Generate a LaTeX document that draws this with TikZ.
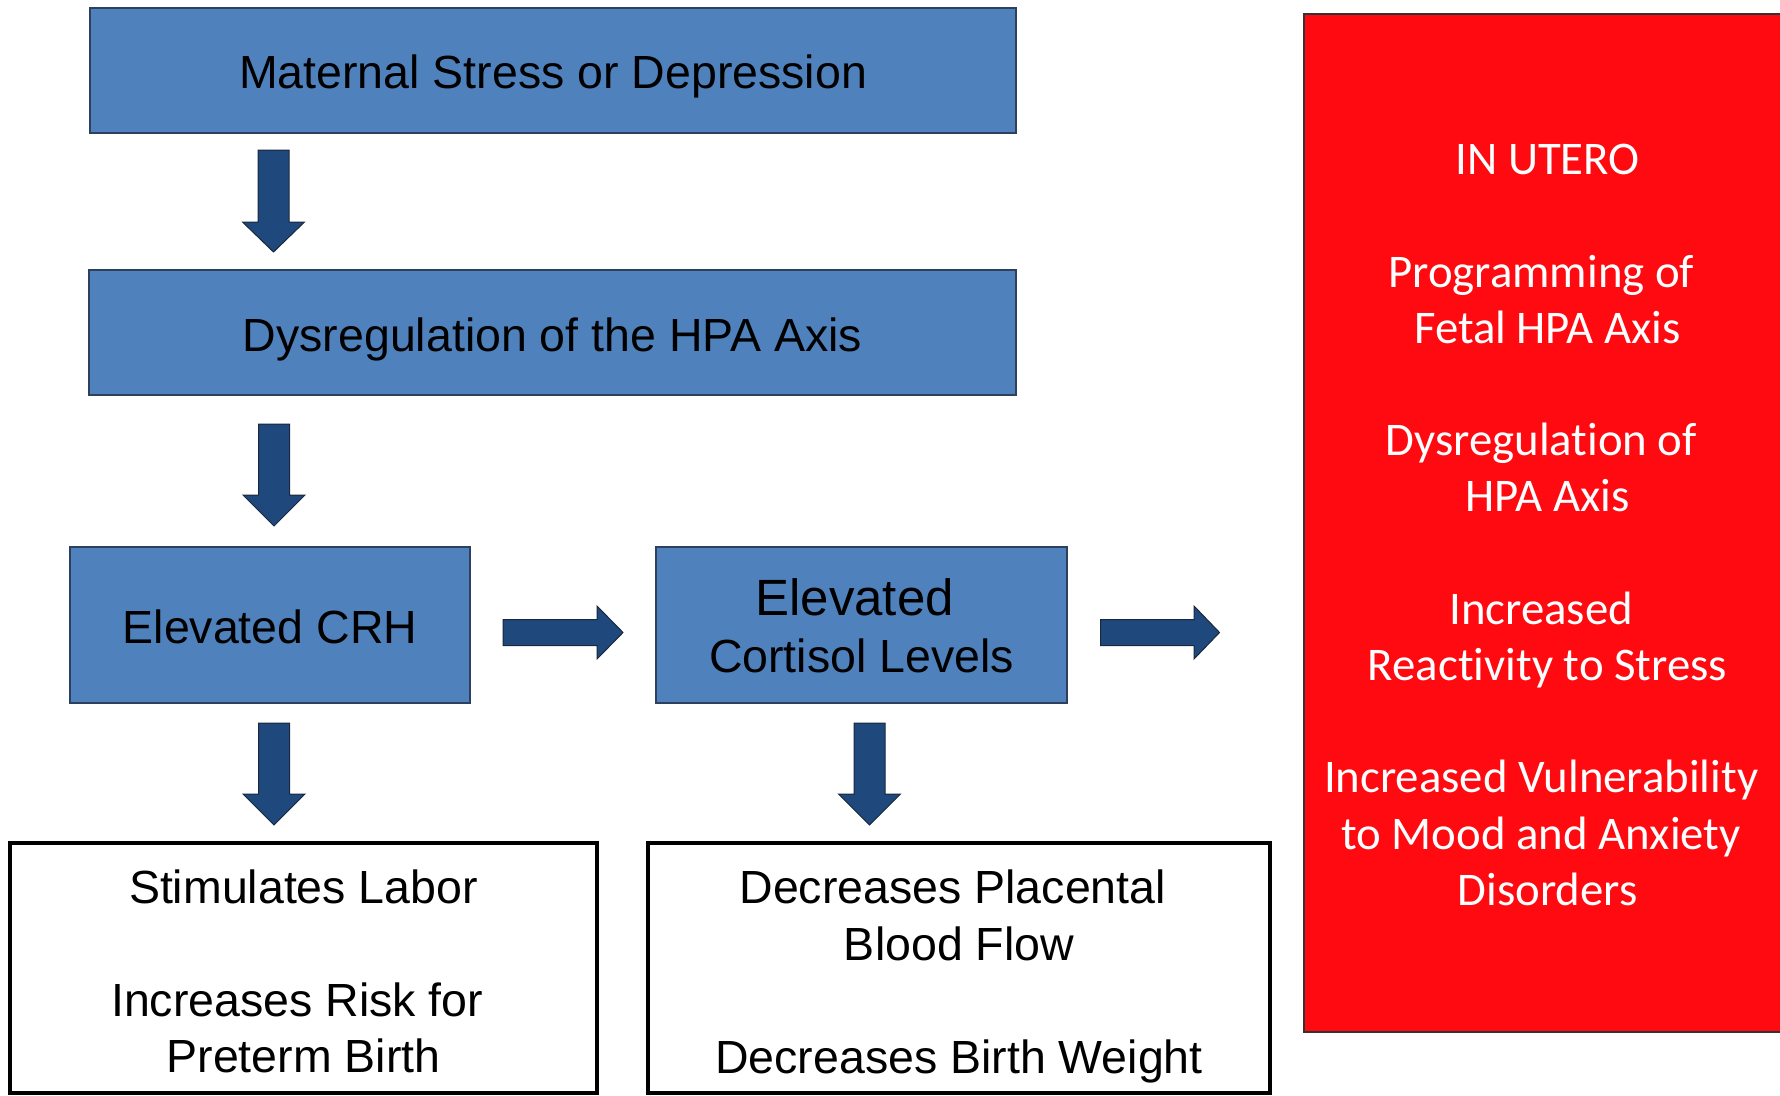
\documentclass[tikz,border=0pt]{standalone}
\usepackage{fontspec}
\setmainfont{Liberation Sans}
\newfontfamily\calfont[RawFeature={-liga;-calt;-dlig;-clig}]{Carlito}
\definecolor{boxblue}{RGB}{79,129,189}
\definecolor{boxedge}{RGB}{45,65,95}
\definecolor{arrowblue}{RGB}{31,73,125}
\definecolor{arrowedge}{RGB}{25,40,60}
\definecolor{boxred}{RGB}{254,10,16}
\tikzset{
  bluebox/.style={draw=boxedge, line width=1.5pt, fill=boxblue, inner sep=0pt, outer sep=0pt},
  whitebox/.style={draw=black, line width=3.5pt, fill=white, inner sep=0pt, outer sep=0pt},
  boxtext/.style={align=center, inner sep=0pt, font=\fontsize{46.5}{56.4}\selectfont},
  redbox/.style={draw=black!80, line width=2pt, fill=boxred, inner sep=0pt, outer sep=0pt},
  redtext/.style={text=white, align=center, inner sep=0pt, font=\calfont\fontsize{46.8}{56.2}\selectfont},
  blk/.style={fill=arrowblue, draw=arrowedge, line width=1pt, line join=miter}
}
\newcommand\tsp{\rule{0.27em}{0pt}}
\begin{document}
\begin{tikzpicture}[x=1pt,y=-1pt]
\useasboundingbox (0,0) rectangle (1780,1095);
% blue boxes
\node[bluebox, minimum width=926pt, minimum height=125pt] (m1) at (553,70.5) {};
\node[boxtext] (m1t) at ([yshift=-5.5pt]m1.center) {Maternal Stress or Depression};
\node[bluebox, minimum width=927pt, minimum height=125pt] (m2) at (552.5,332.5) {};
\node[boxtext] (m2t) at ([yshift=-6.5pt]m2.center) {Dysregulation of the HPA Axis};
\node[bluebox, minimum width=400pt, minimum height=156pt] (crh) at (270,625) {};
\node[boxtext] (crht) at ([yshift=-2.3pt]crh.center) {Elevated CRH};
\node[bluebox, minimum width=411pt, minimum height=156pt] (cort) at (861.5,625) {};
\node[boxtext, font=\fontsize{46.5}{57}\selectfont] (cortt) at ([yshift=-1.2pt]cort.center) {{\fontsize{51}{57}\selectfont Elevated\tsp}\\Cortisol Levels};
% white boxes
\node[whitebox, minimum width=587pt, minimum height=250pt] (labor) at (303.5,968) {};
\node[boxtext] (labort) at ([yshift=-3.4pt]labor.center) {Stimulates Labor\\ \\Increases Risk for\tsp\\Preterm Birth};
\node[whitebox, minimum width=622pt, minimum height=250pt] (flow) at (959,968) {};
\node[boxtext] (flowt) at ([yshift=-8.5pt]flow.center) {Decreases Placental\tsp\\Blood Flow\\ \\Decreases Birth Weight};
% red box
\begin{scope}
\clip (0,0) rectangle (1780,1095);
\node[redbox, minimum width=487pt, minimum height=1018pt] (utero) at (1547.5,523) {};
\end{scope}
\node[redtext] (uterotext) at ([yshift=-2pt]utero.center) {IN UTERO\\ \\Programming of\tsp\\Fetal HPA Axis\\ \\Dysregulation of\tsp\\HPA Axis\\ \\Increased\tsp\\Reactivity to Stress\\ \\Increased Vulnerability\tsp\\to Mood and Anxiety\tsp\\Disorders};
% block arrows
\coordinate (a1) at (273.5,150);
\coordinate (a2) at (274,424);
\coordinate (a3) at (274,723);
\coordinate (a4) at (869.5,723);
\coordinate (r1) at (503,632.5);
\coordinate (r2) at (1100.5,632.5);
\filldraw[blk] (a1) ++(-15.5,0) -- ++(31,0) -- ++(0,72) -- ++(15.5,0) -- ++(-31,30) -- ++(-31,-30) -- ++(15.5,0) -- cycle;
\filldraw[blk] (a2) ++(-15.5,0) -- ++(31,0) -- ++(0,71) -- ++(15.5,0) -- ++(-31,31) -- ++(-31,-31) -- ++(15.5,0) -- cycle;
\filldraw[blk] (a3) ++(-15.5,0) -- ++(31,0) -- ++(0,71) -- ++(15.5,0) -- ++(-31,31) -- ++(-31,-31) -- ++(15.5,0) -- cycle;
\filldraw[blk] (a4) ++(-15.5,0) -- ++(31,0) -- ++(0,71) -- ++(15.5,0) -- ++(-31,31) -- ++(-31,-31) -- ++(15.5,0) -- cycle;
\filldraw[blk] (r1) ++(0,-13) -- ++(94,0) -- ++(0,-13.5) -- ++(26,26.5) -- ++(-26,26.5) -- ++(0,-13.5) -- ++(-94,0) -- cycle;
\filldraw[blk] (r2) ++(0,-13) -- ++(93.5,0) -- ++(0,-13.5) -- ++(25.5,26.5) -- ++(-25.5,26.5) -- ++(0,-13.5) -- ++(-93.5,0) -- cycle;
\end{tikzpicture}
\end{document}
